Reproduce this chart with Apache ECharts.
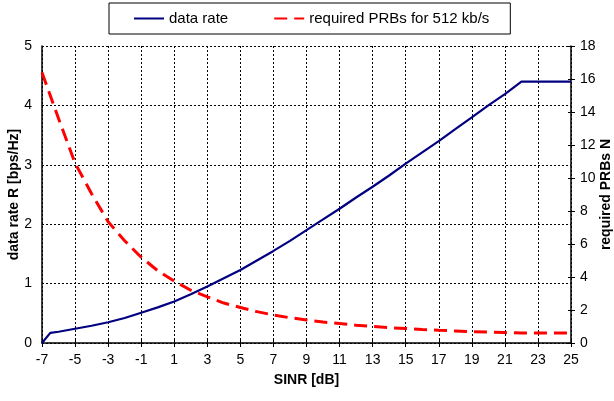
<!DOCTYPE html>
<html>
<head>
<meta charset="utf-8">
<script src="https://cdn.jsdelivr.net/npm/echarts@6/dist/echarts.min.js"></script>
<style>
html,body{margin:0;padding:0;background:#fff;}
#chart{width:614px;height:401px;}
</style>
</head>
<body>
<div id="chart"></div>
<script>
// SINR [dB] points for the data-rate curve
const rateSinr = [-7, -6.5, -6, -5, -4, -3, -2, -1, 0, 1, 2, 3, 4, 5, 6, 7, 8, 9, 10, 11, 12, 13, 14, 15, 16, 17, 18, 19, 20, 21, 22, 23, 24, 25];
// data rate R [bps/Hz]
const rateValues = [0, 0.17, 0.19, 0.24, 0.29, 0.35, 0.42, 0.51, 0.60, 0.70, 0.82, 0.95, 1.09, 1.23, 1.39, 1.55, 1.72, 1.90, 2.08, 2.26, 2.45, 2.63, 2.82, 3.02, 3.21, 3.40, 3.60, 3.80, 4.00, 4.19, 4.40, 4.40, 4.40, 4.40];
// SINR [dB] points for the PRB curve
const prbSinr = [-7, -6, -5, -4, -3, -2, -1, 0, 1, 2, 3, 4, 5, 6, 7, 8, 9, 10, 11, 12, 13, 14, 15, 16, 17, 18, 19, 20, 21, 22, 23, 24, 25];
// required PRBs N for 512 kb/s
const prbValues = [16.4, 13.6, 10.9, 9.05, 7.35, 6.2, 5.2, 4.38, 3.75, 3.2, 2.8, 2.42, 2.15, 1.9, 1.7, 1.53, 1.4, 1.27, 1.18, 1.08, 1.0, 0.93, 0.88, 0.82, 0.77, 0.73, 0.69, 0.66, 0.63, 0.61, 0.61, 0.61, 0.61];

const seriesNames = ['data rate', 'required PRBs for 512 kb/s'];
const xName = 'SINR [dB]';
const yLeftName = 'data rate R [bps/Hz]';
const yRightName = 'required PRBs N';

const chart = echarts.init(document.getElementById('chart'), null, {renderer: 'canvas'});
const font = 'Liberation Sans, Arial, sans-serif';
const dotted = {color: '#000', width: 1, type: [2, 2]};

chart.setOption({
  animation: false,
  backgroundColor: '#fff',
  textStyle: {fontFamily: font},
  grid: {left: 42, right: 43, top: 46, bottom: 58, containLabel: false, outerBoundsMode: 'none'},
  legend: {
    left: 109, top: 3,
    padding: [8, 21, 8, 24],
    borderColor: '#000', borderWidth: 1,
    itemGap: 45, itemWidth: 30, itemHeight: 14,
    itemStyle: {opacity: 0},
    textStyle: {fontSize: 15, color: '#000', fontFamily: font},
    data: seriesNames
  },
  xAxis: [{
    type: 'value', min: -7, max: 25, interval: 2,
    name: xName, nameLocation: 'middle', nameGap: 30, nameMoveOverlap: false,
    nameTextStyle: {fontSize: 14, fontWeight: 'bold', color: '#000', fontFamily: font},
    axisLine: {show: true, onZero: false, lineStyle: {color: '#000', width: 1.5}},
    axisTick: {show: true, length: 4, lineStyle: {color: '#000'}},
    axisLabel: {fontSize: 14, color: '#000', margin: 10, fontFamily: font},
    splitLine: {show: true, lineStyle: dotted}
  }, {
    type: 'value', min: -7, max: 25, interval: 2, position: 'bottom',
    axisLine: {show: false, onZero: false},
    axisTick: {show: true, inside: true, length: 3, lineStyle: {color: '#000'}},
    axisLabel: {show: false},
    splitLine: {show: false}
  }],
  yAxis: [{
    type: 'value', min: 0, max: 5, interval: 1, position: 'left',
    name: yLeftName, nameLocation: 'middle', nameGap: 21, nameRotate: 90, nameMoveOverlap: false,
    nameTextStyle: {fontSize: 14, fontWeight: 'bold', color: '#000', fontFamily: font},
    axisLine: {show: true, onZero: false, lineStyle: {color: '#000', width: 1.5}},
    axisTick: {show: false},
    axisLabel: {fontSize: 14, color: '#000', margin: 10, fontFamily: font},
    splitLine: {show: true, lineStyle: dotted}
  }, {
    type: 'value', min: 0, max: 18, interval: 2, position: 'right',
    name: yRightName, nameLocation: 'middle', nameGap: 28, nameRotate: 90, nameMoveOverlap: false,
    nameTextStyle: {fontSize: 14, fontWeight: 'bold', color: '#000', fontFamily: font},
    axisLine: {show: true, onZero: false, lineStyle: {color: '#000', width: 1.5}},
    axisTick: {show: true, length: 4, lineStyle: {color: '#000'}},
    axisLabel: {fontSize: 14, color: '#000', margin: 9, fontFamily: font},
    splitLine: {show: false}
  }, {
    type: 'value', min: 0, max: 18, interval: 2, position: 'right',
    axisLine: {show: false, onZero: false},
    axisTick: {show: true, inside: true, length: 3, lineStyle: {color: '#000'}},
    axisLabel: {show: false},
    splitLine: {show: false}
  }],
  series: [{
    name: seriesNames[0], type: 'line', xAxisIndex: 0, yAxisIndex: 0,
    data: rateSinr.map((s, i) => [s, rateValues[i]]),
    symbol: 'none', z: 3,
    lineStyle: {color: '#000080', width: 2.2},
    itemStyle: {color: '#000080'}
  }, {
    name: seriesNames[1], type: 'line', xAxisIndex: 0, yAxisIndex: 1,
    data: prbSinr.map((s, i) => [s, prbValues[i]]),
    symbol: 'none', z: 4,
    lineStyle: {color: '#ff0000', width: 3, type: [13, 7]},
    itemStyle: {color: '#ff0000'}
  }]
});
</script>
</body>
</html>
